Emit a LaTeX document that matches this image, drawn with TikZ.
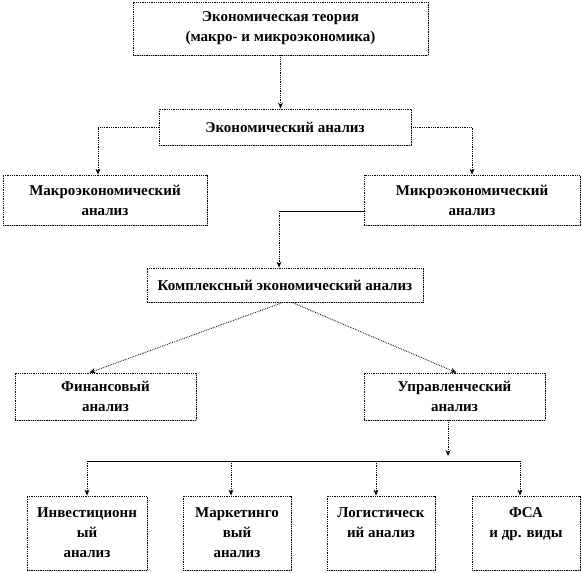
\documentclass[tikz,border=0pt]{standalone}
\usepackage{fontspec}
\setmainfont{Liberation Serif}
\usetikzlibrary{arrows.meta,shadows}

\tikzset{
  box/.style={draw, densely dotted, line width=0.8pt, fill=white, align=center,
    font=\bfseries\fontsize{15}{20}\selectfont, inner sep=2pt,
    drop shadow={shadow xshift=1.2pt, shadow yshift=-1.2pt, opacity=0.6, fill=gray}},
  link/.style={densely dotted, line width=0.8pt},
  arr/.style={link, -{Stealth[length=6pt,width=5pt]}},
  bar/.style={line width=0.7pt},
}

\begin{document}
\begin{tikzpicture}[x=1pt, y=-1pt]
    \useasboundingbox (0,0) rectangle (582,573);

    % theory and analysis levels
    \node[box, minimum width=295pt, minimum height=53pt] (theory) at (280.5,28.5) {Экономическая теория\\(макро- и микроэкономика)};
    \node[box, minimum width=252pt, minimum height=36pt] (econ) at (285,127) {Экономический анализ};
    \node[box, minimum width=204pt, minimum height=50pt] (macro) at (105,200) {Макроэкономический\\анализ};
    \node[box, minimum width=216pt, minimum height=50pt] (micro) at (472,200) {Микроэкономический\\анализ};
    \node[box, minimum width=276pt, minimum height=34pt] (complex) at (285,285) {Комплексный экономический анализ};
    \node[box, minimum width=181pt, minimum height=47pt] (fin) at (105.5,396.5) {Финансовый\\анализ};
    \node[box, minimum width=181pt, minimum height=47pt] (mgmt) at (454.5,396.5) {Управленческий\\анализ};

    % kinds of management analysis
    \node[box, minimum width=120pt, minimum height=74pt] (invest) at (87,533) {Инвестиционн\\ый\\анализ};
    \node[box, minimum width=108pt, minimum height=74pt] (market) at (237,533) {Маркетинго\\вый\\анализ};
    \node[box, minimum width=108pt, minimum height=74pt] (logist) at (381,533) {Логистическ\\ий анализ\\\mbox{}};
    \node[box, minimum width=108pt, minimum height=74pt] (fsa) at (526,533) {ФСА\\и др. виды\\\mbox{}};

    % connectors
    \draw[arr] (theory.south) -- (theory.south |- econ.north);
    \draw[arr] (econ.west) -| ([xshift=-7pt]macro.north);
    \draw[arr] (econ.east) -| (micro.north);
    \coordinate (mbend) at (279,211);
    \draw[bar] (mbend -| micro.west) -- (mbend);
    \draw[arr] (mbend) -- (mbend |- complex.north);
    \draw[arr] ([xshift=-2pt]complex.south) -- ([xshift=-16pt]fin.north);
    \draw[arr] ([xshift=7pt]complex.south) -- ([xshift=2pt]mgmt.north);
    \coordinate (bus) at (448,461);
    \draw[arr, shorten >=5pt] (bus |- mgmt.south) -- (bus);
    \draw[bar] (bus -| invest.north) -- ([xshift=-6pt]fsa.north |- bus);
    \foreach \n/\dx in {invest/0, market/-6, logist/-5, fsa/-6}
        \draw[arr] ([xshift=\dx pt]\n.north |- bus) -- ([xshift=\dx pt]\n.north);
\end{tikzpicture}
\end{document}
